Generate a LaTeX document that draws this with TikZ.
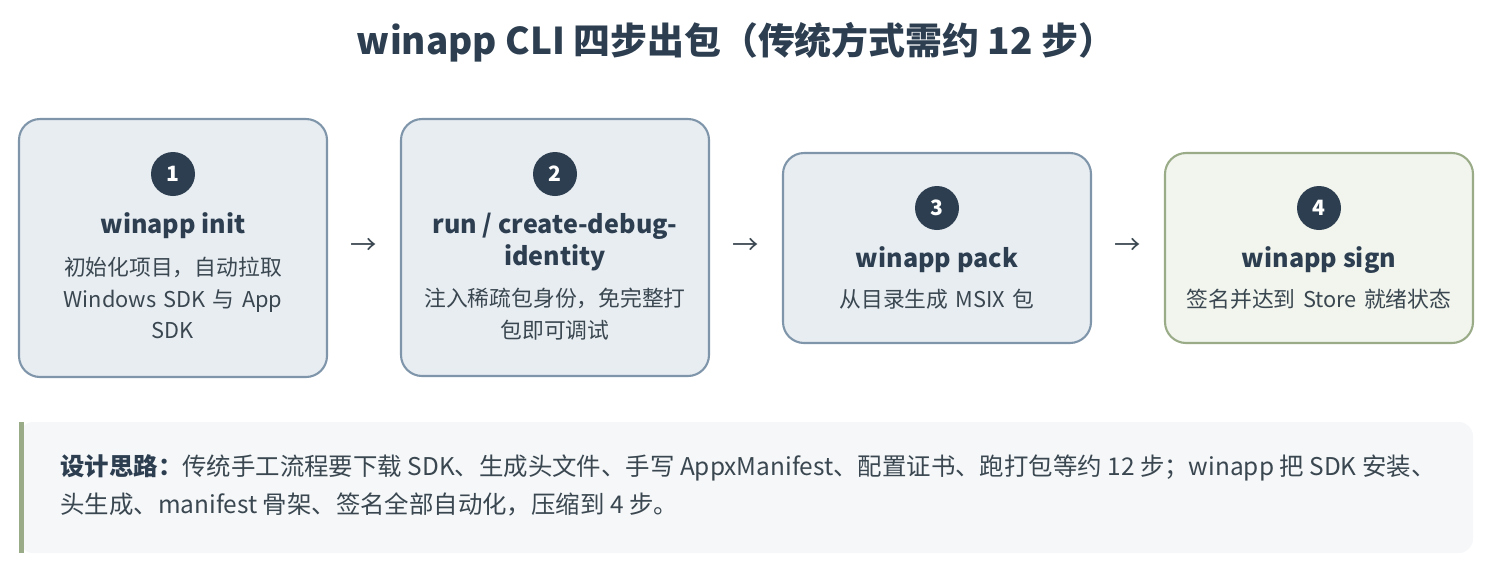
\documentclass[tikz,border=0pt]{standalone}
\usepackage{fontspec}
\setmainfont{Noto Sans CJK SC}
\usetikzlibrary{positioning}
\definecolor{ink}{HTML}{2C3E50}
\definecolor{txt}{HTML}{3A4750}
\definecolor{stepfill}{HTML}{E8EDF2}
\definecolor{stepline}{HTML}{7F95AA}
\definecolor{donefill}{HTML}{F2F5EE}
\definecolor{doneline}{HTML}{9AAB88}
\definecolor{notefill}{HTML}{F5F7F9}
\newlength\unitpx
\setlength\unitpx{0.02cm}
\tikzset{
  stepbox/.style={draw=stepline, fill=stepfill, line width=1.2pt, rounded corners=12pt},
  donebox/.style={draw=doneline, fill=donefill, line width=1.2pt, rounded corners=12pt},
  badge/.style={circle, fill=ink, minimum size=44\unitpx, inner sep=0pt, text=white, font=\fontsize{12}{12}\selectfont\bfseries},
  head/.style={text=ink, font=\fontsize{14.3}{18}\selectfont\bfseries, align=center},
  body/.style={text=txt, font=\fontsize{12.4}{18}\selectfont, align=center, text width=6cm},
  flow/.style={text=txt, font=\fontsize{15}{15}\selectfont}
}
\begin{document}
\begin{tikzpicture}[x=0.02cm, y=-0.02cm]
  % Boundary
  \path[use as bounding box] (0,0) rectangle (1492,566);
  % Title
  \node[text=ink, font=\fontsize{21}{21}\selectfont\bfseries] (title) at (736,42) {winapp CLI 四步出包（传统方式需约 12 步）};
  % Steps
  \draw[stepbox] (19,119) rectangle (327,377);
  \draw[stepbox] (401,119) rectangle (709,376);
  \draw[stepbox] (783,153) rectangle (1091,343);
  \draw[donebox] (1165,153) rectangle (1473,343);
  \node[badge] (b1) at (173,174) {1};
  \node[head] (h1) at (173,226) {winapp init};
  \node[body] (t1) at (173,298) {初始化项目，自动拉取\\Windows SDK 与 App\\SDK};
  \node[badge] (b2) at (555,174) {2};
  \node[head] (h2) at (555,242) {run / create-debug-\\identity};
  \node[body] (t2) at (555,314) {注入稀疏包身份，免完整打\\包即可调试};
  \node[badge] (b3) at (937,208) {3};
  \node[head] (h3) at (937,260) {winapp pack};
  \node[body] (t3) at (937,299) {从目录生成 MSIX 包};
  \node[badge] (b4) at (1319,208) {4};
  \node[head] (h4) at (1319,260) {winapp sign};
  \node[body] (t4) at (1319,299) {签名并达到 Store 就绪状态};
  % Flow marks
  \foreach \x in {364,746,1128}
    \node[flow] at (\x,246) {→};
  % Note
  \fill[notefill, rounded corners=8pt] (19,422) rectangle (1473,553);
  \fill[doneline] (19,422) rectangle (24,553);
  \node[text=txt, font=\fontsize{13.9}{21.5}\selectfont, align=left, anchor=north west, inner sep=0pt] (note) at (60,454)
    {\textbf{\color{ink}设计思路：}传统手工流程要下载 SDK、生成头文件、手写 AppxManifest、配置证书、跑打包等约 12 步；winapp 把 SDK 安装、\\头生成、manifest 骨架、签名全部自动化，压缩到 4 步。};
\end{tikzpicture}
\end{document}
